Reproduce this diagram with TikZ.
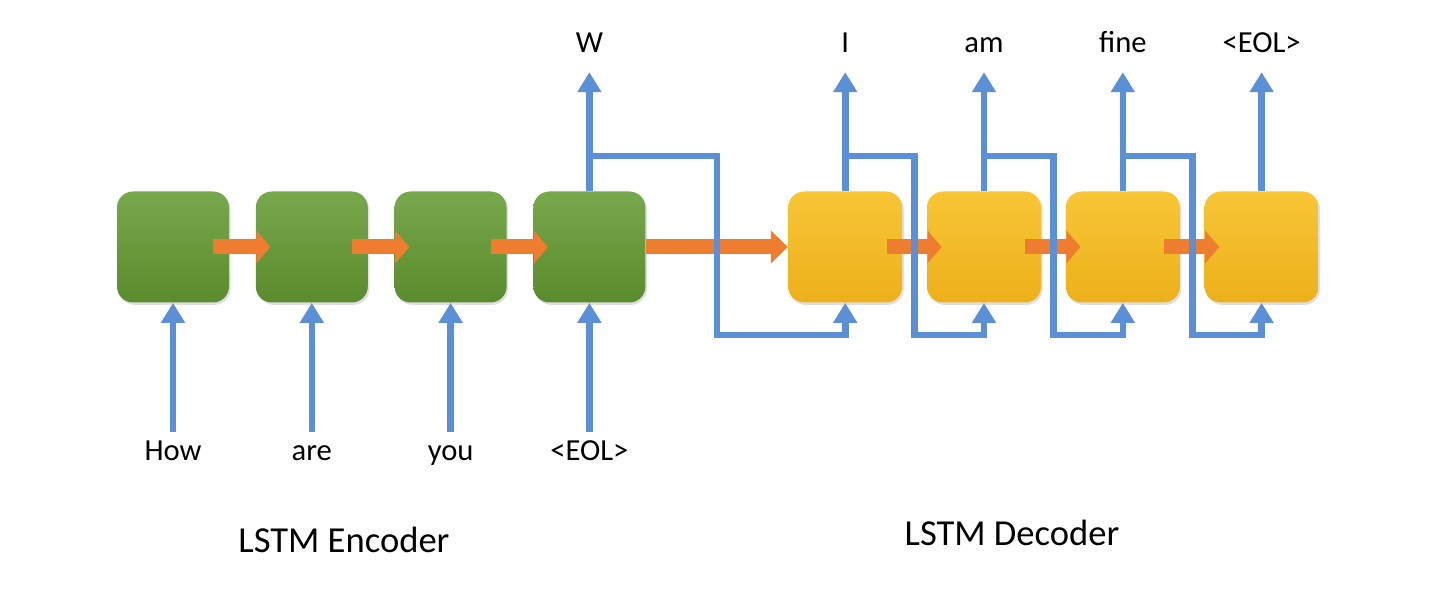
\documentclass[tikz,border=0pt]{standalone}
\usepackage{fontspec}
\setmainfont{Carlito}
\usetikzlibrary{positioning,arrows.meta,shadows,calc}

\definecolor{greentop}{HTML}{78A84C}
\definecolor{greenbot}{HTML}{5A8B2C}
\definecolor{yellowtop}{HTML}{F8C636}
\definecolor{yellowbot}{HTML}{EDB01A}
\definecolor{statecol}{HTML}{EE7D2F}
\definecolor{wirecol}{HTML}{5B8FD6}

\tikzset{
  cell/.style={minimum width=56pt, minimum height=55.5pt, inner sep=0pt,
    rounded corners=8pt,
    drop shadow={opacity=0.25, shadow xshift=0.8pt, shadow yshift=-1.2pt}},
  enc/.style={cell, top color=greentop, bottom color=greenbot},
  dec/.style={cell, minimum width=57pt, top color=yellowtop, bottom color=yellowbot},
  state/.style={draw=statecol, line width=7.5pt, -{Triangle[length=7pt,width=16pt]}},
  wire/.style={draw=wirecol, line width=3.3pt, -{Triangle[length=10pt,width=11.5pt]}},
  word/.style={font=\fontsize{15.3}{18}\selectfont, inner sep=0pt, anchor=base,
    text height=1.6ex, text depth=0.4ex},
  title/.style={font=\fontsize{18.3}{22}\selectfont}
}

\begin{document}
\begin{tikzpicture}[x=0.5pt, y=-0.5pt, node distance=13pt]
  \useasboundingbox (0,0) rectangle (1444,597);

  % encoder and decoder cells
  \node[enc] (e1) at (173,247) {};
  \node[enc] (e2) [right=of e1] {};
  \node[enc] (e3) [right=of e2] {};
  \node[enc] (e4) [right=of e3] {};
  \node[dec] (d1) [right=71pt of e4] {};
  \node[dec] (d2) [right=12pt of d1] {};
  \node[dec] (d3) [right=12pt of d2] {};
  \node[dec] (d4) [right=12pt of d3] {};

  % hidden state
  \foreach \a/\b in {e1/e2,e2/e3,e3/e4,d1/d2,d2/d3,d3/d4}
    \draw[state] ([xshift=-8pt]\a.east) -- ([xshift=7.5pt]\b.west);
  \draw[state, -{Triangle[length=8.5pt,width=16pt]}] (e4.east) -- (d1.west);

  % input words
  \coordinate (inrow) at (0,461);
  \foreach \i/\w in {1/How,2/are,3/you,4/{<EOL>}} {
    \node[word] (x\i) at (e\i |- inrow) {\w};
    \draw[wire, shorten <=6.5pt] (x\i.north) -- (e\i.south);
  }

  % output words
  \coordinate (outrow) at (0,53);
  \node[word] (w) at (e4 |- outrow) {W};
  \draw[wire, shorten >=7.5pt] (e4.north) -- (w.south);
  \foreach \i/\w in {1/I,2/am,3/fine,4/{<EOL>}} {
    \node[word] (y\i) at (d\i |- outrow) {\w};
    \draw[wire, shorten >=7.5pt] (d\i.north) -- (y\i.south);
  }

  % feedback into next decoder cell
  \foreach \a/\b in {e4/d1,d1/d2,d2/d3,d3/d4} {
    \coordinate (m) at ($(\a.east)!0.5!(\b.west)$);
    \draw[wire] ($(\a.north)+(0,-35)$) -| ($(m)+(0,88)$) -| (\b.south);
  }

  \node[title] (enclabel) at (344,540) {LSTM Encoder};
  \node[title] (declabel) at (1012,533) {LSTM Decoder};
\end{tikzpicture}
\end{document}
